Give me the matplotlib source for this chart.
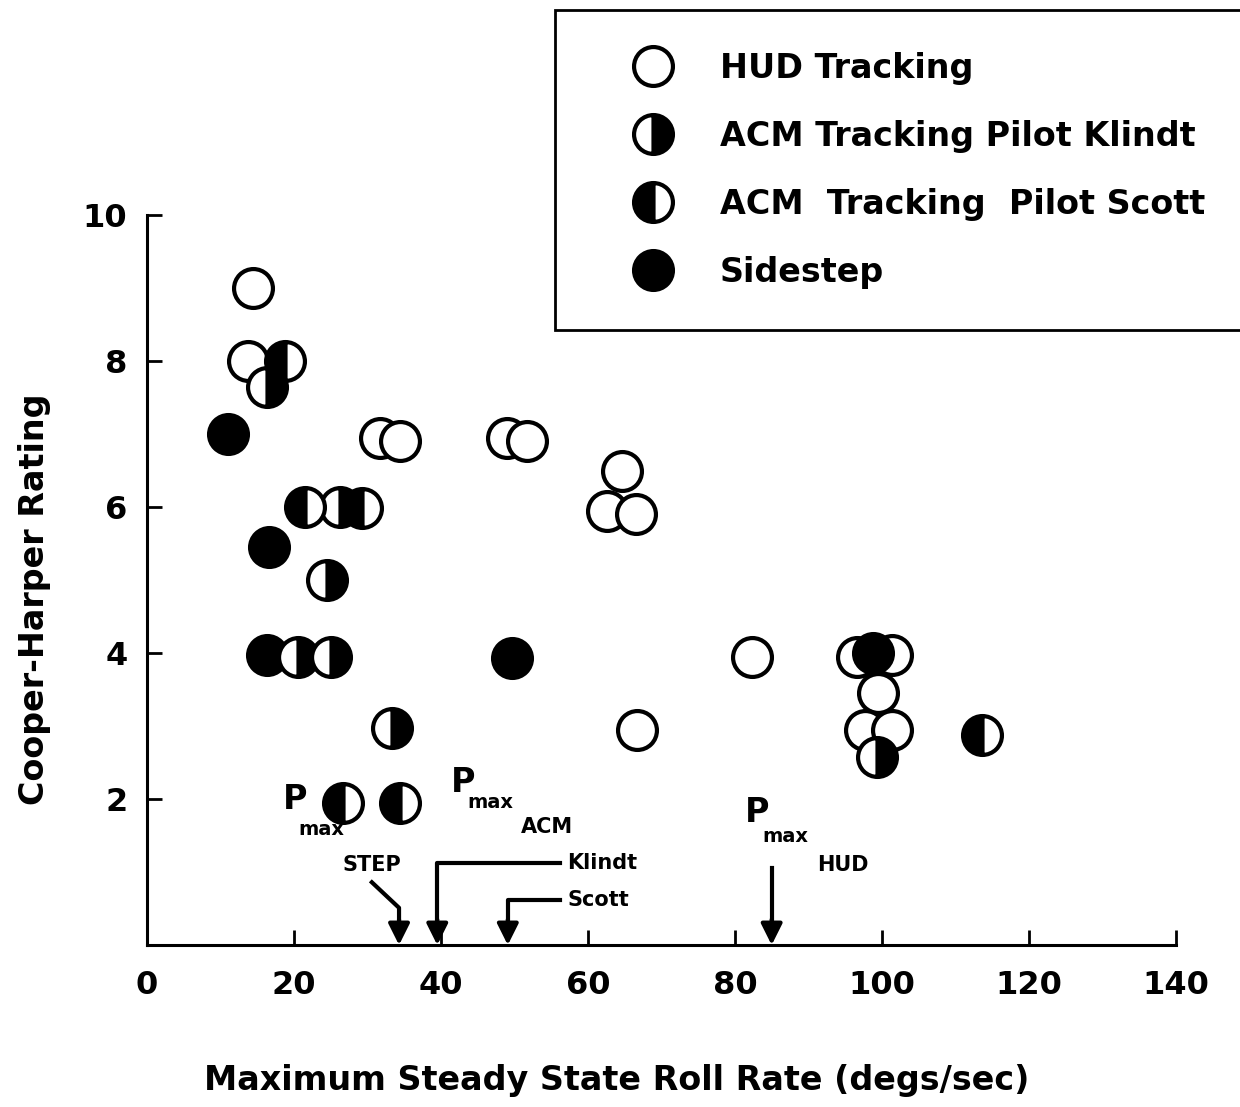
import numpy as np
import matplotlib.pyplot as plt
from matplotlib.lines import Line2D

plt.rcParams['font.family'] = ['DejaVu Sans']
plt.rcParams['font.weight'] = 'bold'

# Cooper-Harper ratings vs maximum steady state roll rate
hud_x = [14.4, 13.7, 31.7, 34.4, 49.0, 51.7, 64.6, 62.6, 66.5, 66.7,
         82.3, 96.6, 101.4, 99.5, 97.7, 101.4]
hud_y = [9.0, 8.0, 6.95, 6.9, 6.95, 6.9, 6.5, 5.95, 5.9, 2.95,
         3.95, 3.95, 3.97, 3.45, 2.95, 2.95]

klindt_x = [16.3, 26.3, 24.5, 20.5, 25.1, 33.3, 99.3]
klindt_y = [7.65, 6.0, 5.0, 3.95, 3.95, 2.97, 2.58]

scott_x = [18.8, 21.5, 29.3, 113.6, 26.7, 34.4]
scott_y = [8.0, 6.0, 5.98, 2.88, 1.95, 1.95]

step_x = [11.0, 16.6, 16.3, 49.7, 98.8]
step_y = [7.0, 5.45, 3.97, 3.93, 4.0]

# P_max markers on the roll rate axis
pmax_step = 34.3
pmax_klindt = 39.5
pmax_scott = 49.1
pmax_hud = 85.0

fig = plt.figure(figsize=(12.4, 11.07), dpi=100)
ax = fig.add_axes([0.1185, 0.1463, 0.8298, 0.6595])

ms = 28
mew = 3
ax.plot(hud_x, hud_y, 'o', ms=ms, mew=mew, mec='black', mfc='white',
        label='HUD Tracking', zorder=3)
ax.plot(step_x, step_y, 'o', ms=ms, mew=mew, mec='black', mfc='black',
        label='Sidestep', zorder=4)
ax.plot(klindt_x, klindt_y, 'o', ms=ms, mew=mew, mec='black', mfc='black',
        fillstyle='right', markerfacecoloralt='white',
        label='ACM Tracking Pilot Klindt', zorder=5)
ax.plot(scott_x, scott_y, 'o', ms=ms, mew=mew, mec='black', mfc='black',
        fillstyle='left', markerfacecoloralt='white',
        label='ACM  Tracking  Pilot Scott', zorder=6)

ax.set_xlim(0, 140)
ax.set_ylim(0, 10)
ax.set_xticks(np.arange(0, 141, 20))
ax.set_yticks([2, 4, 6, 8, 10])
ax.spines['top'].set_visible(False)
ax.spines['right'].set_visible(False)
ax.spines['left'].set_linewidth(2.2)
ax.spines['bottom'].set_linewidth(2.2)
ax.tick_params(axis='both', direction='in', length=11, width=2,
               labelsize=23)
ax.tick_params(axis='x', pad=18)
ax.tick_params(axis='y', pad=14)

ax.set_xlabel('Maximum Steady State Roll Rate (degs/sec)', fontsize=24,
              fontweight='bold', va='center')
ax.xaxis.set_label_coords(0.457, -0.185)
ax.set_ylabel('Cooper-Harper Rating', fontsize=24, fontweight='bold',
              va='center')
ax.yaxis.set_label_coords(-0.109, 0.473)

# P_max annotations with arrows down to the axis
lw = 3
arrow_kw = dict(arrowstyle='-|>', lw=lw, color='black', mutation_scale=32,
                shrinkA=0, shrinkB=0)

# STEP
ax.plot([30.6, pmax_step, pmax_step], [0.86, 0.51, 0.3], color='black',
        lw=lw, clip_on=False, zorder=7)
ax.annotate('', xy=(pmax_step, 0), xytext=(pmax_step, 0.35),
            arrowprops=arrow_kw, zorder=7)
ax.text(20.1, 1.99, 'P', fontsize=24, ha='center', va='center')
ax.text(23.8, 1.58, 'max', fontsize=14, ha='center', va='center')
ax.text(30.6, 1.10, 'STEP', fontsize=15, ha='center', va='center')

# ACM Klindt / Scott
ax.text(43.0, 2.22, 'P', fontsize=24, ha='center', va='center')
ax.text(46.7, 1.95, 'max', fontsize=14, ha='center', va='center')
ax.text(54.4, 1.62, 'ACM', fontsize=15, ha='center', va='center')
ax.plot([56.2, pmax_klindt, pmax_klindt], [1.12, 1.12, 0.3], color='black',
        lw=lw, clip_on=False, zorder=7)
ax.annotate('', xy=(pmax_klindt, 0), xytext=(pmax_klindt, 0.35),
            arrowprops=arrow_kw, zorder=7)
ax.text(57.2, 1.12, 'Klindt', fontsize=15, ha='left', va='center')
ax.plot([56.2, pmax_scott, pmax_scott], [0.62, 0.62, 0.3], color='black',
        lw=lw, clip_on=False, zorder=7)
ax.annotate('', xy=(pmax_scott, 0), xytext=(pmax_scott, 0.35),
            arrowprops=arrow_kw, zorder=7)
ax.text(57.2, 0.62, 'Scott', fontsize=15, ha='left', va='center')

# HUD
ax.plot([pmax_hud, pmax_hud], [1.05, 0.3], color='black', lw=lw,
        clip_on=False, zorder=7)
ax.annotate('', xy=(pmax_hud, 0), xytext=(pmax_hud, 0.35),
            arrowprops=arrow_kw, zorder=7)
ax.text(83.0, 1.82, 'P', fontsize=24, ha='center', va='center')
ax.text(86.8, 1.48, 'max', fontsize=14, ha='center', va='center')
ax.text(94.7, 1.10, 'HUD', fontsize=15, ha='center', va='center')

# legend
handles = [
    Line2D([], [], marker='o', ls='none', ms=ms, mew=mew, mec='black',
           mfc='white'),
    Line2D([], [], marker='o', ls='none', ms=ms, mew=mew, mec='black',
           mfc='black', fillstyle='right', markerfacecoloralt='white'),
    Line2D([], [], marker='o', ls='none', ms=ms, mew=mew, mec='black',
           mfc='black', fillstyle='left', markerfacecoloralt='white'),
    Line2D([], [], marker='o', ls='none', ms=ms, mew=mew, mec='black',
           mfc='black'),
]
labels = ['HUD Tracking', 'ACM Tracking Pilot Klindt',
          'ACM  Tracking  Pilot Scott', 'Sidestep']
leg = fig.legend(handles, labels, loc='upper left',
                 bbox_to_anchor=(555 / 1240, 1 - 10 / 1107),
                 borderaxespad=0, fontsize=24, frameon=True, fancybox=False,
                 framealpha=1, edgecolor='black', borderpad=1.25,
                 labelspacing=1.05, handlelength=3.4, handletextpad=0.3,
                 numpoints=1)
leg.get_frame().set_linewidth(2)

fig.savefig('out.png', dpi=100)
